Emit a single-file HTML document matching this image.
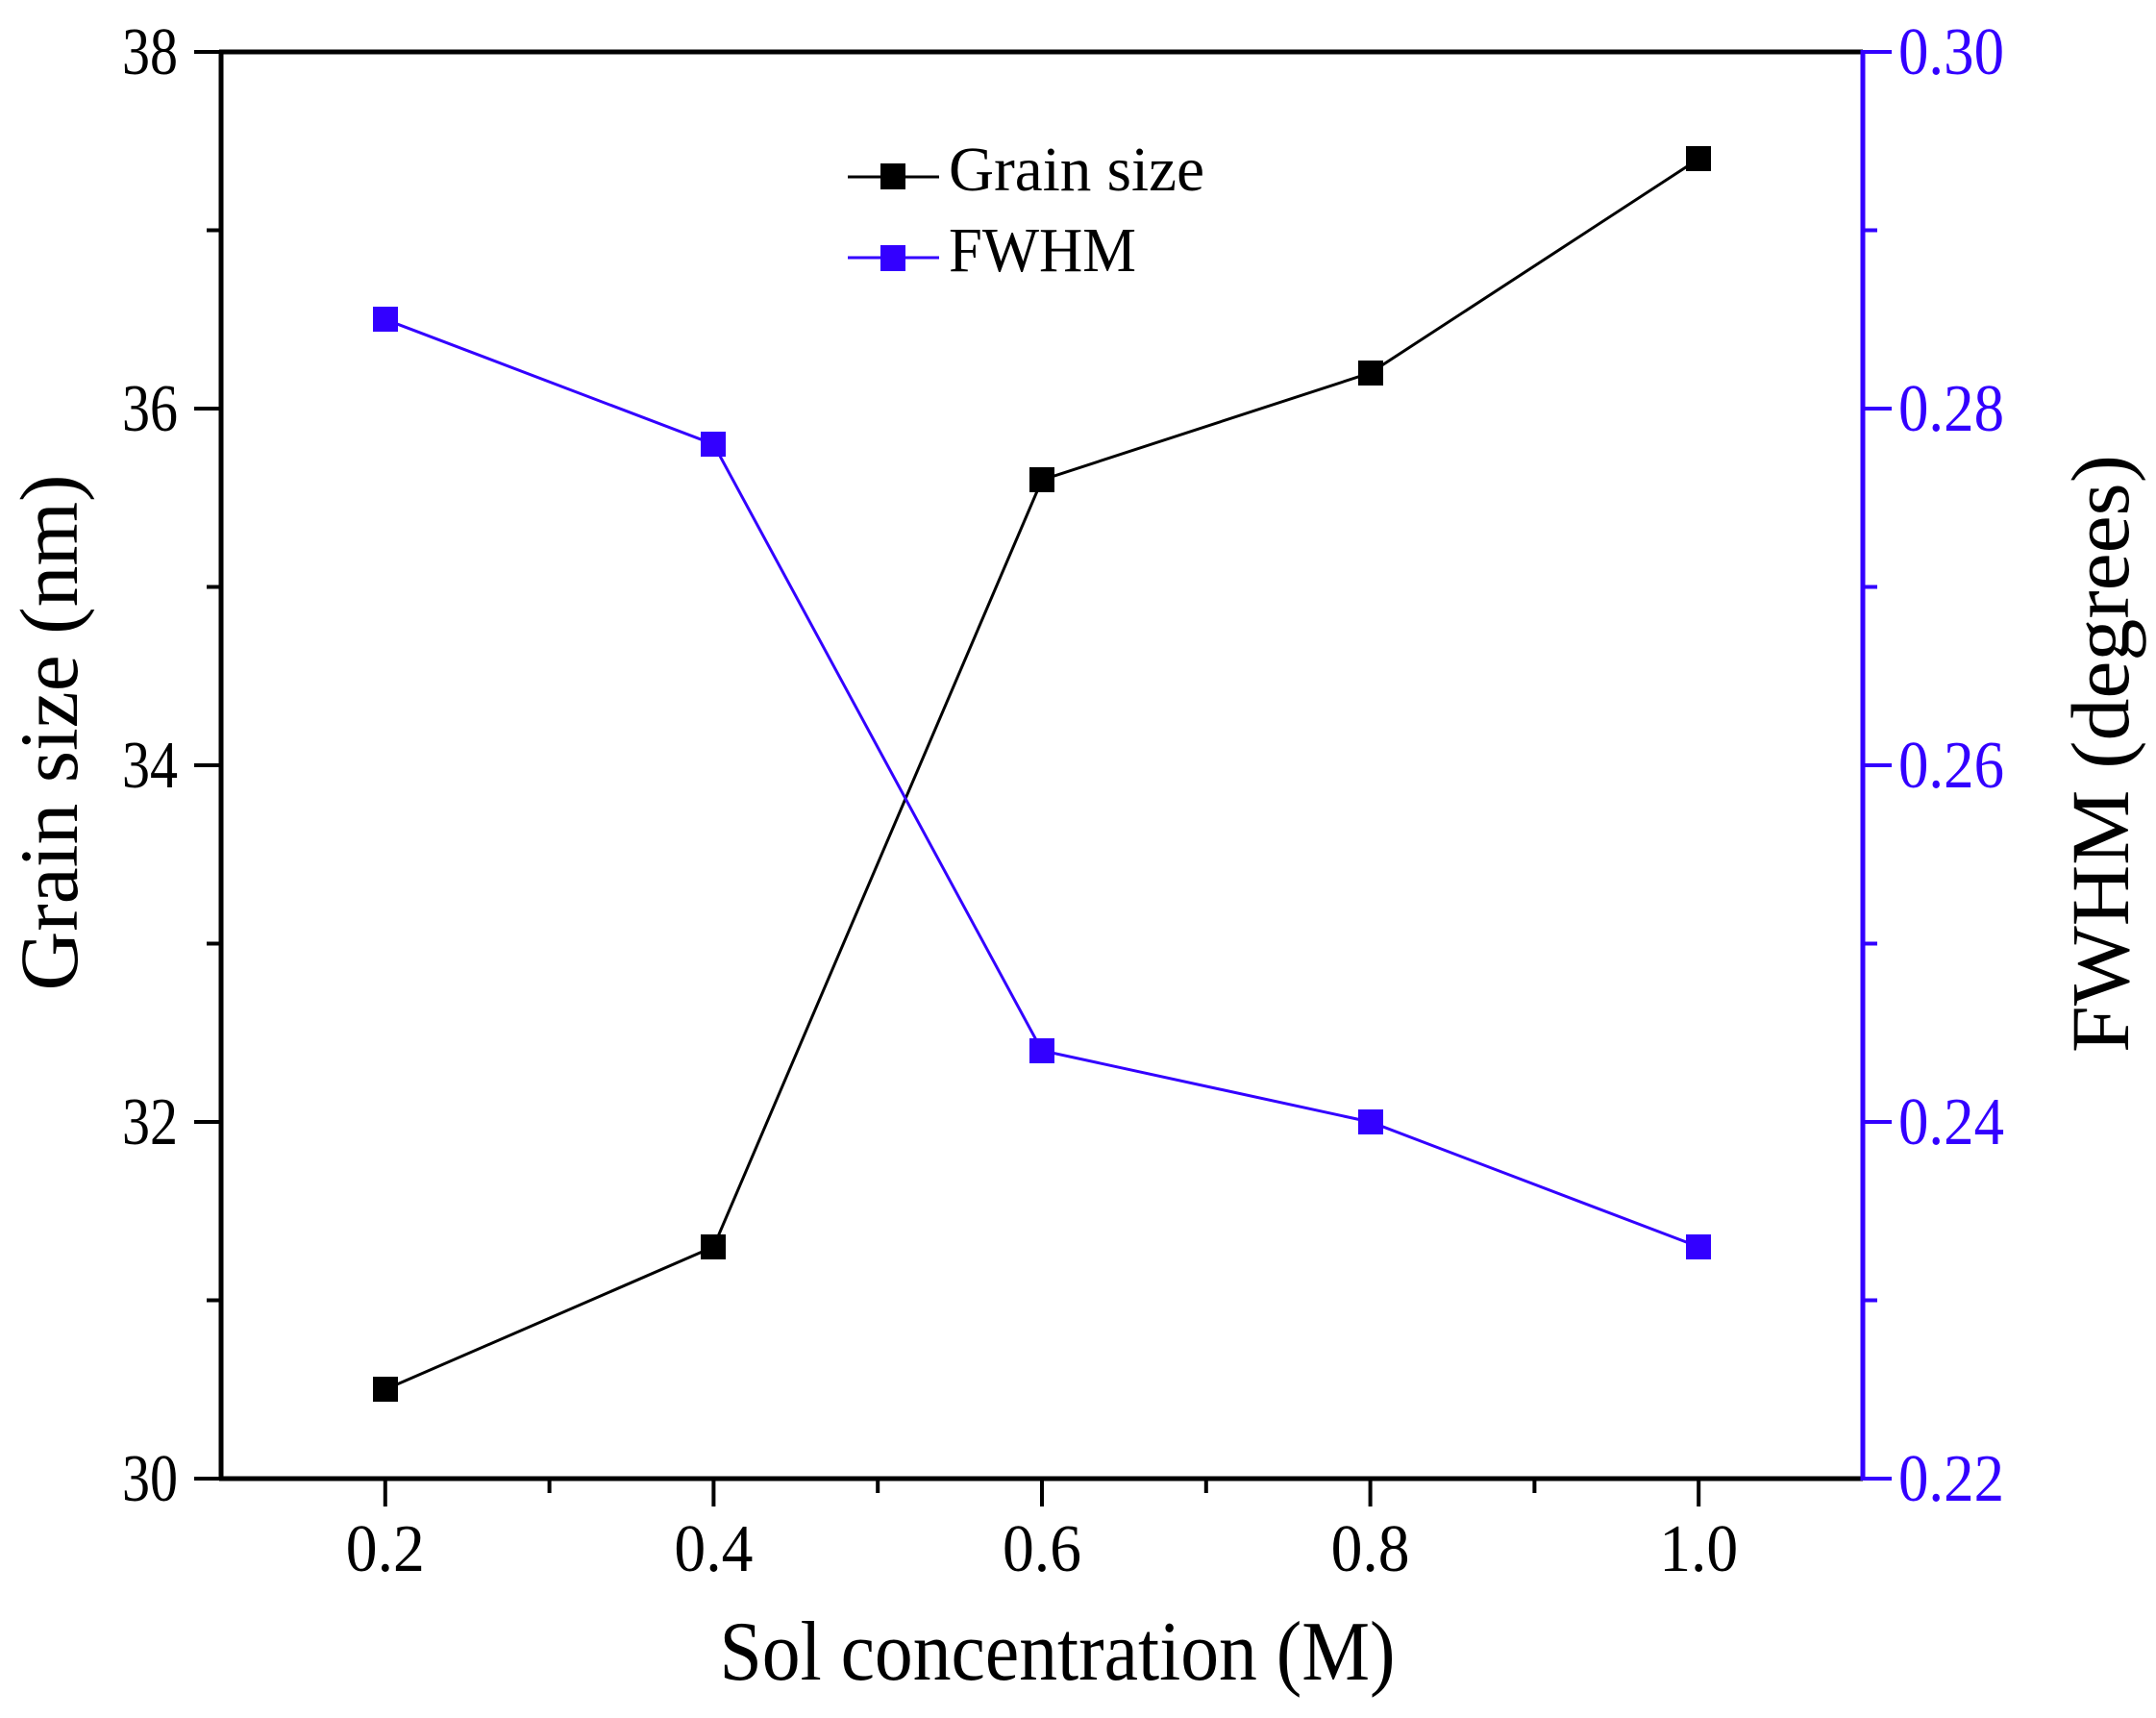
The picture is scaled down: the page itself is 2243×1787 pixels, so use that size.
<!DOCTYPE html>
<html><head><meta charset="utf-8"><style>body{margin:0;background:#fff}svg{display:block}</style></head>
<body>
<svg width="2243" height="1787" viewBox="0 0 2243 1787" xmlns="http://www.w3.org/2000/svg" font-family="Liberation Serif, serif">
<rect width="2243" height="1787" fill="#fff"/>
<g stroke="#000" stroke-width="4">
<line x1="202" y1="54" x2="230" y2="54"/><line x1="202" y1="425" x2="230" y2="425"/><line x1="202" y1="796" x2="230" y2="796"/><line x1="202" y1="1167" x2="230" y2="1167"/><line x1="202" y1="1538" x2="230" y2="1538"/>
<line x1="215" y1="239.5" x2="230" y2="239.5"/><line x1="215" y1="610.5" x2="230" y2="610.5"/><line x1="215" y1="981.5" x2="230" y2="981.5"/><line x1="215" y1="1352.5" x2="230" y2="1352.5"/>
<line x1="400.8" y1="1538" x2="400.8" y2="1567"/><line x1="742.4" y1="1538" x2="742.4" y2="1567"/><line x1="1084" y1="1538" x2="1084" y2="1567"/><line x1="1425.6" y1="1538" x2="1425.6" y2="1567"/><line x1="1767.2" y1="1538" x2="1767.2" y2="1567"/>
<line x1="571.6" y1="1538" x2="571.6" y2="1553"/><line x1="913.2" y1="1538" x2="913.2" y2="1553"/><line x1="1254.8" y1="1538" x2="1254.8" y2="1553"/><line x1="1596.4" y1="1538" x2="1596.4" y2="1553"/>
</g>
<g stroke="#3300ff" stroke-width="4">
<line x1="1938" y1="54" x2="1968" y2="54"/><line x1="1938" y1="425" x2="1968" y2="425"/><line x1="1938" y1="796" x2="1968" y2="796"/><line x1="1938" y1="1167" x2="1968" y2="1167"/><line x1="1938" y1="1538" x2="1968" y2="1538"/>
<line x1="1938" y1="239.5" x2="1953" y2="239.5"/><line x1="1938" y1="610.5" x2="1953" y2="610.5"/><line x1="1938" y1="981.5" x2="1953" y2="981.5"/><line x1="1938" y1="1352.5" x2="1953" y2="1352.5"/>
</g>
<line x1="228" y1="54" x2="1938" y2="54" stroke="#000" stroke-width="5"/>
<line x1="228" y1="1538" x2="1938" y2="1538" stroke="#000" stroke-width="5"/>
<line x1="230" y1="52" x2="230" y2="1540" stroke="#000" stroke-width="5"/>
<line x1="1938" y1="52" x2="1938" y2="1540" stroke="#3300ff" stroke-width="5"/>
<polyline points="400.8,1445.3 742.4,1296.9 1084,499.2 1425.6,387.9 1767.2,165.3" fill="none" stroke="#000" stroke-width="3"/>
<polyline points="400.8,332.3 742.4,462.1 1084,1092.8 1425.6,1167 1767.2,1296.9" fill="none" stroke="#3300ff" stroke-width="3"/>
<g fill="#000">
<rect x="388" y="1432" width="26" height="26"/><rect x="729" y="1284" width="26" height="26"/><rect x="1071" y="486" width="26" height="26"/><rect x="1413" y="375" width="26" height="26"/><rect x="1754" y="152" width="26" height="26"/>
</g>
<g fill="#3300ff">
<rect x="388" y="319" width="26" height="26"/><rect x="729" y="449" width="26" height="26"/><rect x="1071" y="1080" width="26" height="26"/><rect x="1413" y="1154" width="26" height="26"/><rect x="1754" y="1284" width="26" height="26"/>
</g>
<line x1="882" y1="184" x2="977" y2="184" stroke="#000" stroke-width="3"/>
<rect x="916" y="170" width="26" height="27" fill="#000"/>
<line x1="882" y1="268" x2="977" y2="268" stroke="#3300ff" stroke-width="3"/>
<rect x="916" y="255" width="26" height="27" fill="#3300ff"/>
<text x="987" y="198" font-size="66" textLength="266" lengthAdjust="spacingAndGlyphs">Grain size</text>
<text x="987" y="282" font-size="66" textLength="195" lengthAdjust="spacingAndGlyphs">FWHM</text>
<g font-size="70" text-anchor="end">
<text x="185" y="77" textLength="58" lengthAdjust="spacingAndGlyphs">38</text>
<text x="185" y="448" textLength="58" lengthAdjust="spacingAndGlyphs">36</text>
<text x="185" y="819" textLength="58" lengthAdjust="spacingAndGlyphs">34</text>
<text x="185" y="1190" textLength="58" lengthAdjust="spacingAndGlyphs">32</text>
<text x="185" y="1561" textLength="58" lengthAdjust="spacingAndGlyphs">30</text>
</g>
<g font-size="70" fill="#3300ff">
<text x="1975" y="77" textLength="110" lengthAdjust="spacingAndGlyphs">0.30</text>
<text x="1975" y="448" textLength="110" lengthAdjust="spacingAndGlyphs">0.28</text>
<text x="1975" y="819" textLength="110" lengthAdjust="spacingAndGlyphs">0.26</text>
<text x="1975" y="1190" textLength="110" lengthAdjust="spacingAndGlyphs">0.24</text>
<text x="1975" y="1561" textLength="110" lengthAdjust="spacingAndGlyphs">0.22</text>
</g>
<g font-size="70" text-anchor="middle">
<text x="400.8" y="1634" textLength="82" lengthAdjust="spacingAndGlyphs">0.2</text>
<text x="742.4" y="1634" textLength="82" lengthAdjust="spacingAndGlyphs">0.4</text>
<text x="1084" y="1634" textLength="82" lengthAdjust="spacingAndGlyphs">0.6</text>
<text x="1425.6" y="1634" textLength="82" lengthAdjust="spacingAndGlyphs">0.8</text>
<text x="1767.2" y="1634" textLength="82" lengthAdjust="spacingAndGlyphs">1.0</text>
</g>
<text x="1100" y="1747" font-size="88" text-anchor="middle" textLength="703" lengthAdjust="spacingAndGlyphs">Sol concentration (M)</text>
<text transform="translate(80,762) rotate(-90)" font-size="86" text-anchor="middle" textLength="537" lengthAdjust="spacingAndGlyphs">Grain size (nm)</text>
<text transform="translate(2214,784) rotate(-90)" font-size="86" text-anchor="middle" textLength="622" lengthAdjust="spacingAndGlyphs">FWHM (degrees)</text>
</svg>
</body></html>
